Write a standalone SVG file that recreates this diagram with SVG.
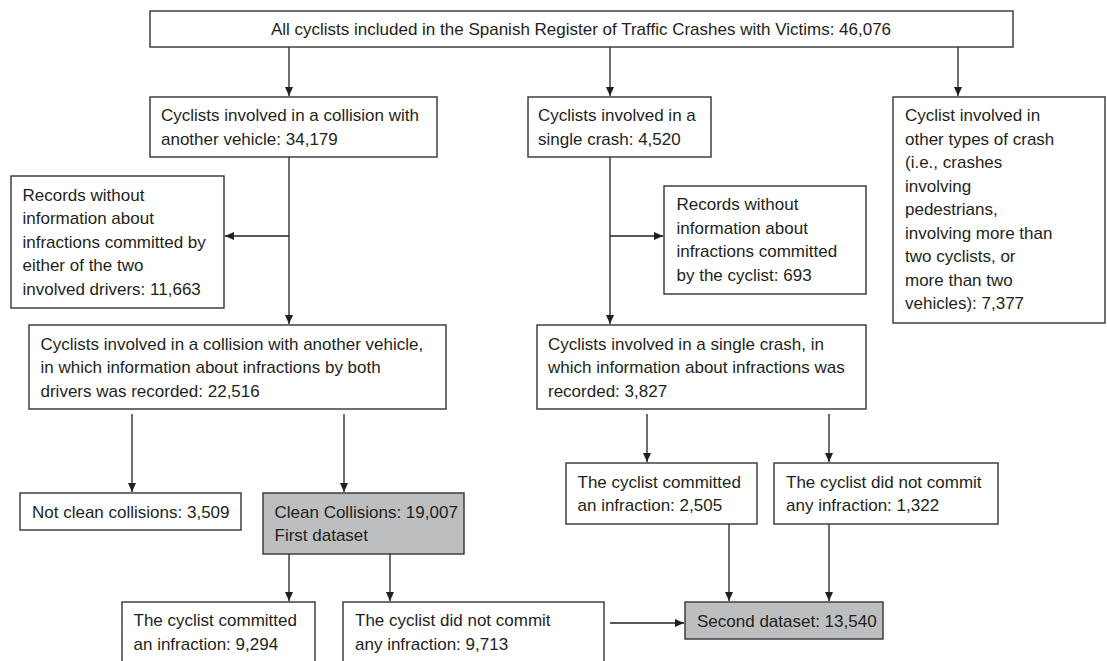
<svg xmlns="http://www.w3.org/2000/svg" width="1107" height="661" viewBox="0 0 1107 661">
  <style>
    .box { fill: #ffffff; stroke: #333333; stroke-width: 1.4; }
    .shaded { fill: #bdbec0; stroke: #333333; stroke-width: 1.4; }
    .lbl { font-family: "Liberation Sans", Arial, sans-serif; font-size: 17px; fill: #231f20; }
    .mid { text-anchor: middle; }
    .conn { fill: none; stroke: #231f20; stroke-width: 1.3; }
  </style>
  <defs>
    <marker id="arrow" markerUnits="userSpaceOnUse" markerWidth="10" markerHeight="9" refX="9" refY="4" orient="auto">
      <path d="M0,0 L9,4 L0,8 z" fill="#231f20"/>
    </marker>
  </defs>

  <rect width="1107" height="661" fill="#ffffff"/>

  <!-- connectors -->
  <g id="connectors">
    <line class="conn" x1="289" y1="47" x2="289" y2="96" marker-end="url(#arrow)"/>
    <line class="conn" x1="610" y1="47" x2="610" y2="96" marker-end="url(#arrow)"/>
    <line class="conn" x1="958" y1="47" x2="958" y2="96" marker-end="url(#arrow)"/>

    <line class="conn" x1="289" y1="157" x2="289" y2="324" marker-end="url(#arrow)"/>
    <line class="conn" x1="289" y1="236" x2="225" y2="236" marker-end="url(#arrow)"/>

    <line class="conn" x1="610" y1="157" x2="610" y2="324" marker-end="url(#arrow)"/>
    <line class="conn" x1="610" y1="236" x2="663" y2="236" marker-end="url(#arrow)"/>

    <line class="conn" x1="132" y1="414" x2="132" y2="492" marker-end="url(#arrow)"/>
    <line class="conn" x1="344" y1="414" x2="344" y2="492" marker-end="url(#arrow)"/>

    <line class="conn" x1="289" y1="554" x2="289" y2="601" marker-end="url(#arrow)"/>
    <line class="conn" x1="390" y1="554" x2="390" y2="601" marker-end="url(#arrow)"/>

    <line class="conn" x1="647" y1="414" x2="647" y2="462" marker-end="url(#arrow)"/>
    <line class="conn" x1="829" y1="414" x2="829" y2="462" marker-end="url(#arrow)"/>

    <line class="conn" x1="729" y1="524" x2="729" y2="601" marker-end="url(#arrow)"/>
    <line class="conn" x1="829" y1="524" x2="829" y2="601" marker-end="url(#arrow)"/>

    <line class="conn" x1="610" y1="623" x2="684" y2="623" marker-end="url(#arrow)"/>
  </g>

  <!-- all cyclists -->
  <g id="all-cyclists">
    <rect class="box" x="150" y="11" width="863" height="36"/>
    <text class="lbl mid" x="581" y="35">All cyclists included in the Spanish Register of Traffic Crashes with Victims: 46,076</text>
  </g>

  <g id="collision">
    <rect class="box" x="150" y="97" width="287" height="60"/>
    <text class="lbl" x="161" y="121">Cyclists involved in a collision with</text>
    <text class="lbl" x="161" y="144.5">another vehicle: 34,179</text>
  </g>

  <g id="single-crash">
    <rect class="box" x="528" y="97" width="183" height="60"/>
    <text class="lbl" x="538" y="121">Cyclists involved in a</text>
    <text class="lbl" x="538" y="144.5">single crash: 4,520</text>
  </g>

  <g id="other-crash">
    <rect class="box" x="893" y="97" width="212" height="226"/>
    <text class="lbl" x="905" y="121">Cyclist involved in</text>
    <text class="lbl" x="905" y="144.5">other types of crash</text>
    <text class="lbl" x="905" y="168">(i.e., crashes</text>
    <text class="lbl" x="905" y="191.5">involving</text>
    <text class="lbl" x="905" y="215">pedestrians,</text>
    <text class="lbl" x="905" y="238.5">involving more than</text>
    <text class="lbl" x="905" y="262">two cyclists, or</text>
    <text class="lbl" x="905" y="285.5">more than two</text>
    <text class="lbl" x="905" y="309">vehicles): 7,377</text>
  </g>

  <g id="collision-missing">
    <rect class="box" x="11" y="176" width="213" height="132"/>
    <text class="lbl" x="22.5" y="200.5">Records without</text>
    <text class="lbl" x="22.5" y="224">information about</text>
    <text class="lbl" x="22.5" y="247.5">infractions committed by</text>
    <text class="lbl" x="22.5" y="271">either of the two</text>
    <text class="lbl" x="22.5" y="294.5">involved drivers: 11,663</text>
  </g>

  <g id="single-missing">
    <rect class="box" x="664" y="186" width="202" height="108"/>
    <text class="lbl" x="676.5" y="210">Records without</text>
    <text class="lbl" x="676.5" y="233.5">information about</text>
    <text class="lbl" x="676.5" y="257">infractions committed</text>
    <text class="lbl" x="676.5" y="280.5">by the cyclist: 693</text>
  </g>

  <g id="collision-recorded">
    <rect class="box" x="29" y="325" width="417" height="84"/>
    <text class="lbl" x="40.5" y="349.5">Cyclists involved in a collision with another vehicle,</text>
    <text class="lbl" x="40.5" y="373">in which information about infractions by both</text>
    <text class="lbl" x="40.5" y="396.5">drivers was recorded: 22,516</text>
  </g>

  <g id="single-recorded">
    <rect class="box" x="537" y="325" width="329" height="84"/>
    <text class="lbl" x="548" y="349.5">Cyclists involved in a single crash, in</text>
    <text class="lbl" x="548" y="373">which information about infractions was</text>
    <text class="lbl" x="548" y="396.5">recorded: 3,827</text>
  </g>

  <g id="not-clean">
    <rect class="box" x="20" y="493" width="221" height="37"/>
    <text class="lbl" x="32" y="517.5">Not clean collisions: 3,509</text>
  </g>

  <g id="clean">
    <rect class="shaded" x="263" y="493" width="201" height="61"/>
    <text class="lbl" x="274.5" y="517.5">Clean Collisions: 19,007</text>
    <text class="lbl" x="274.5" y="541">First dataset</text>
  </g>

  <g id="collision-infraction">
    <rect class="box" x="122" y="602" width="193" height="70"/>
    <text class="lbl" x="133.5" y="626">The cyclist committed</text>
    <text class="lbl" x="133.5" y="649.5">an infraction: 9,294</text>
  </g>

  <g id="collision-no-infraction">
    <rect class="box" x="343" y="602" width="261" height="70"/>
    <text class="lbl" x="355" y="626">The cyclist did not commit</text>
    <text class="lbl" x="355" y="649.5">any infraction: 9,713</text>
  </g>

  <g id="single-infraction">
    <rect class="box" x="566" y="463" width="191" height="61"/>
    <text class="lbl" x="577.5" y="487.5">The cyclist committed</text>
    <text class="lbl" x="577.5" y="511">an infraction: 2,505</text>
  </g>

  <g id="single-no-infraction">
    <rect class="box" x="774" y="463" width="224" height="61"/>
    <text class="lbl" x="786" y="487.5">The cyclist did not commit</text>
    <text class="lbl" x="786" y="511">any infraction: 1,322</text>
  </g>

  <g id="second-dataset">
    <rect class="shaded" x="685" y="602" width="198" height="37"/>
    <text class="lbl" x="697" y="626.5">Second dataset: 13,540</text>
  </g>
</svg>
